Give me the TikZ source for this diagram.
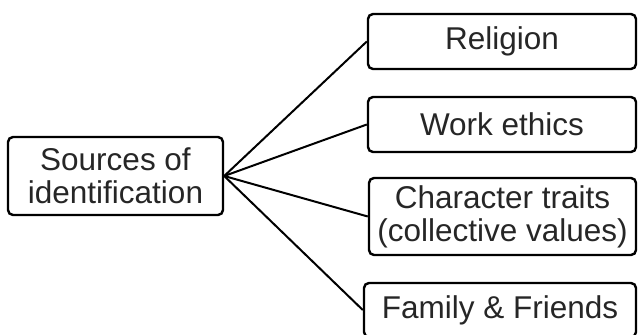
\documentclass[tikz,border=0pt]{standalone}
\usepackage{fontspec}
\setmainfont{Liberation Sans}
\begin{document}
\begin{tikzpicture}[x=1pt,y=-1pt,
  box/.style={draw=black, line width=2.4pt, rounded corners=5pt, align=center, inner sep=0pt,
    font=\fontsize{31.5pt}{33pt}\selectfont, text=black!85},
  link/.style={draw=black, line width=2pt}]
\useasboundingbox (0,0) rectangle (638,335);
\clip (0,0) rectangle (638,335);
\node[box, minimum width=215pt, minimum height=78pt] (src) at (115.5,176) {Sources of\\identification};
\node[box, minimum width=268pt, minimum height=55pt] (rel) at (502,41.5) {Religion};
\node[box, minimum width=268pt, minimum height=55pt] (work) at (502,124.5) {Work ethics};
\node[box, minimum width=267pt, minimum height=77pt] (char) at (502.5,216.5) {Character traits\\(collective values)};
\node[box, minimum width=272pt, minimum height=54pt] (fam) at (500,310) {Family \& Friends};
\foreach \t in {rel,work,char,fam}
  \draw[link] (src.east) -- (\t.west);
\end{tikzpicture}
\end{document}
